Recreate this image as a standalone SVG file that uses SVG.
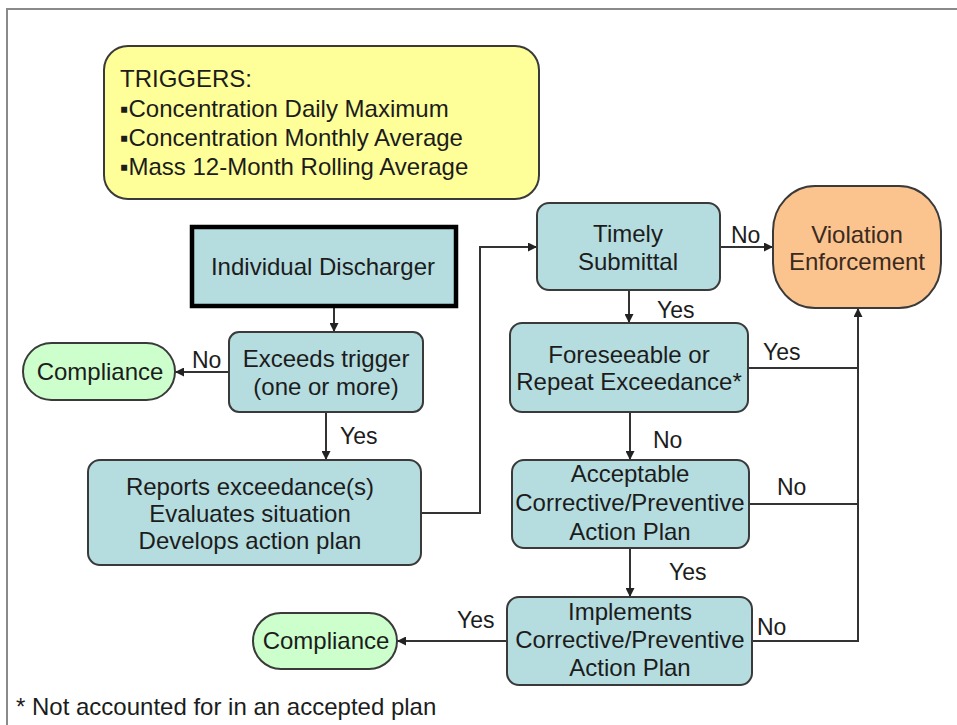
<svg xmlns="http://www.w3.org/2000/svg" width="957" height="725" viewBox="0 0 957 725">
<style>
text { font-family: "Liberation Sans", Arial, sans-serif; font-size: 24px; fill: #1c1c1c; }
.c { text-anchor: middle; }
.lbl { font-size: 23px; }
.box { fill: #B5DCDF; stroke: #3a3a3a; stroke-width: 2; }
.comp { fill: #CCFFCC; stroke: #3a3a3a; stroke-width: 2; }
.conn { fill: none; stroke: #333; stroke-width: 2; }
</style>
<defs>
<marker id="arr" viewBox="0 0 10 10" refX="10" refY="5" markerWidth="10" markerHeight="9" orient="auto" markerUnits="userSpaceOnUse">
<path d="M0,0 L10,5 L0,10 z" fill="#222"/>
</marker>
</defs>
<rect x="0" y="0" width="957" height="725" fill="#fff"/>
<path d="M7,725 V9 H957" fill="none" stroke="#8a8a8a" stroke-width="2"/>

<g id="triggers">
<rect x="104" y="46" width="435" height="153" rx="24" fill="#FFFF99" stroke="#3a3a3a" stroke-width="2"/>
<text x="120" y="87">TRIGGERS:</text>
<text x="120" y="117">▪Concentration Daily Maximum</text>
<text x="120" y="146">▪Concentration Monthly Average</text>
<text x="120" y="175">▪Mass 12-Month Rolling Average</text>
</g>

<g id="connectors">
<path class="conn" d="M334,308 V332" marker-end="url(#arr)"/>
<path class="conn" d="M229,372 H175" marker-end="url(#arr)"/>
<path class="conn" d="M326,412 V460" marker-end="url(#arr)"/>
<path class="conn" d="M421,513 H480 V247 H537" marker-end="url(#arr)"/>
<path class="conn" d="M720,247 H773" marker-end="url(#arr)"/>
<path class="conn" d="M629,290 V323" marker-end="url(#arr)"/>
<path class="conn" d="M748,368 H858"/>
<path class="conn" d="M630,412 V460" marker-end="url(#arr)"/>
<path class="conn" d="M749,504 H858"/>
<path class="conn" d="M630,548 V597" marker-end="url(#arr)"/>
<path class="conn" d="M752,641 H858 V308" marker-end="url(#arr)"/>
<path class="conn" d="M507,641 H397" marker-end="url(#arr)"/>
<text class="lbl" x="192" y="368">No</text>
<text class="lbl" x="340" y="444">Yes</text>
<text class="lbl" x="731" y="243">No</text>
<text class="lbl" x="657" y="318">Yes</text>
<text class="lbl" x="763" y="360">Yes</text>
<text class="lbl" x="653" y="448">No</text>
<text class="lbl" x="777" y="495">No</text>
<text class="lbl" x="669" y="580">Yes</text>
<text class="lbl" x="757" y="635">No</text>
<text class="lbl" x="457" y="628">Yes</text>
</g>

<g id="individual-discharger">
<rect x="192" y="227" width="264" height="79" fill="#B5DCDF" stroke="#000" stroke-width="4.5"/>
<text class="c" x="323" y="275">Individual Discharger</text>
</g>

<g id="exceeds-trigger">
<rect class="box" x="229" y="332" width="194" height="80" rx="10"/>
<text class="c" x="326" y="367">Exceeds trigger</text>
<text class="c" x="326" y="395">(one or more)</text>
</g>

<g id="compliance-1">
<rect class="comp" x="23" y="343" width="152" height="57" rx="28.5"/>
<text class="c" x="100" y="380">Compliance</text>
</g>

<g id="reports">
<rect class="box" x="88" y="460" width="333" height="105" rx="12"/>
<text class="c" x="250" y="495">Reports exceedance(s)</text>
<text class="c" x="250" y="522">Evaluates situation</text>
<text class="c" x="250" y="549">Develops action plan</text>
</g>

<g id="timely-submittal">
<rect class="box" x="537" y="203" width="183" height="87" rx="12"/>
<text class="c" x="628" y="242">Timely</text>
<text class="c" x="628" y="270">Submittal</text>
</g>

<g id="violation-enforcement">
<rect x="773" y="186" width="168" height="122" rx="42" ry="45" fill="#FBC48F" stroke="#3a3a3a" stroke-width="2"/>
<text class="c" x="857" y="243" style="fill:#3a2a20">Violation</text>
<text class="c" x="857" y="270" style="fill:#3a2a20">Enforcement</text>
</g>

<g id="foreseeable">
<rect class="box" x="510" y="323" width="238" height="89" rx="12"/>
<text class="c" x="629" y="363">Foreseeable or</text>
<text class="c" x="629" y="390">Repeat Exceedance*</text>
</g>

<g id="acceptable-plan">
<rect class="box" x="512" y="460" width="237" height="88" rx="12"/>
<text class="c" x="630" y="482">Acceptable</text>
<text class="c" x="630" y="511">Corrective/Preventive</text>
<text class="c" x="630" y="540">Action Plan</text>
</g>

<g id="implements-plan">
<rect class="box" x="507" y="597" width="245" height="88" rx="12"/>
<text class="c" x="630" y="620">Implements</text>
<text class="c" x="630" y="648">Corrective/Preventive</text>
<text class="c" x="630" y="676">Action Plan</text>
</g>

<g id="compliance-2">
<rect class="comp" x="253" y="613" width="144" height="56" rx="28"/>
<text class="c" x="326" y="649">Compliance</text>
</g>

<text x="16" y="715">* Not accounted for in an accepted plan</text>
</svg>
